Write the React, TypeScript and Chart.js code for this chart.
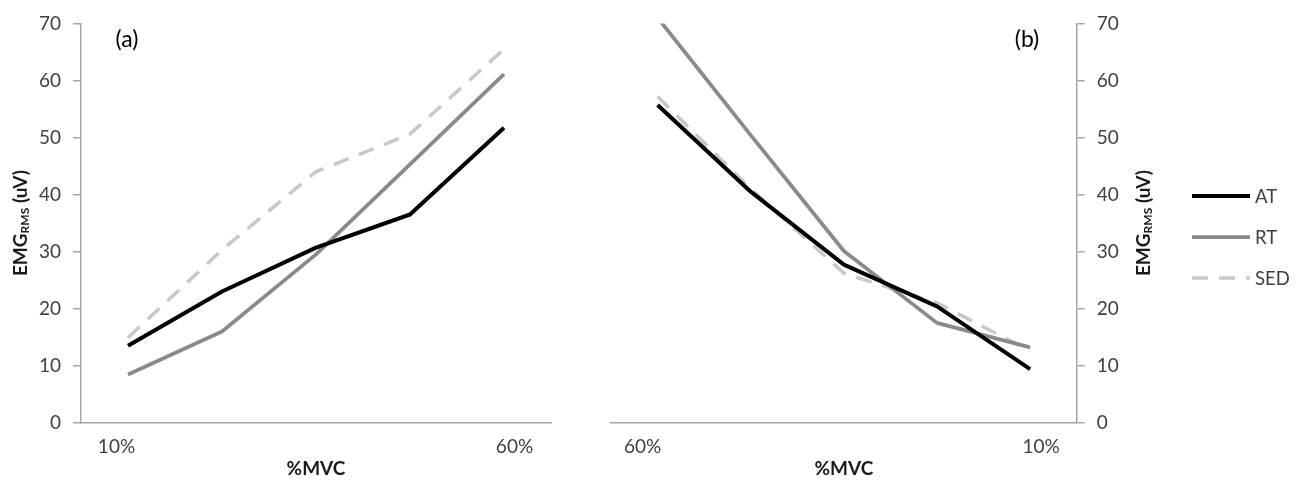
import React, { useEffect, useRef } from 'react';
import { Chart, registerables } from 'chart.js';

Chart.register(...registerables);

// ---------- data ----------
// only the end categories are labelled in the original
const categoriesA = ['10%', '', '', '', '60%'];
const categoriesB = ['60%', '', '', '', '10%'];
const seriesNames = ['AT', 'RT', 'SED'];
const atA = [13.5, 23.0, 30.7, 36.5, 51.7];
const rtA = [8.45, 16.0, 29.5, 45.3, 61.1];
const sedA = [14.9, 30.3, 44.0, 50.6, 65.5];
const atB = [55.7, 40.5, 27.7, 20.4, 9.4];
const rtB = [71.0, 50.4, 30.1, 17.5, 13.2];
const sedB = [57.2, 41.0, 26.2, 21.0, 12.6];
const yMin = 0;
const yMax = 70;
const yStep = 10;
const xTitle = '%MVC';
const yTitleMain = 'EMG';
const yTitleSub = 'RMS';
const yTitleRest = ' (uV)';
const panelLabels = ['(a)', '(b)'];

// ---------- styles ----------
const FONT = 'Lato';
const TICK_COLOR = '#404040';
const TITLE_COLOR = '#1a1a1a';
const AXIS_COLOR = '#a6a6a6';
const TICK_SIZE = 19;
const seriesStyles = [
  { color: '#000000', width: 4, dash: [] as number[] },
  { color: '#8a8a8a', width: 3.75, dash: [] as number[] },
  { color: '#c8c8c8', width: 3.5, dash: [16, 11] },
];

function makeDatasets(values: number[][]) {
  return values.map((v, i) => ({
    label: seriesNames[i],
    data: v,
    borderColor: seriesStyles[i].color,
    backgroundColor: seriesStyles[i].color,
    borderWidth: seriesStyles[i].width,
    borderDash: seriesStyles[i].dash,
    borderJoinStyle: 'round' as const,
    pointRadius: 0,
    pointHoverRadius: 0,
    tension: 0,
    fill: false,
  }));
}

const yTitlePlugin = {
  id: 'yTitle',
  afterDraw(chart: any, _args: any, opts: any) {
    const { ctx, chartArea } = chart;
    const cy = (chartArea.top + chartArea.bottom) / 2;
    ctx.save();
    ctx.translate(opts.baselineX, cy);
    ctx.rotate(-Math.PI / 2);
    ctx.fillStyle = TITLE_COLOR;
    ctx.textBaseline = 'alphabetic';
    ctx.textAlign = 'left';
    const big = `bold ${opts.size}px ${FONT}`;
    const small = `bold ${opts.subSize}px ${FONT}`;
    ctx.font = big;
    const w1 = ctx.measureText(yTitleMain).width;
    const w3 = ctx.measureText(yTitleRest).width;
    ctx.font = small;
    const w2 = ctx.measureText(yTitleSub).width;
    let x = -(w1 + w2 + w3) / 2;
    ctx.font = big;
    ctx.fillText(yTitleMain, x, 0);
    x += w1;
    ctx.font = small;
    ctx.fillText(yTitleSub, x, opts.subShift);
    x += w2;
    ctx.font = big;
    ctx.fillText(yTitleRest, x, 0);
    ctx.restore();
  },
};

// category tick labels, placed from the x scale, end labels nudged outward as in the original
const xLabelsPlugin = {
  id: 'xLabels',
  afterDraw(chart: any, _args: any, opts: any) {
    const { ctx } = chart;
    const scale = chart.scales.x;
    const texts: string[] = chart.data.labels;
    ctx.save();
    ctx.font = `${TICK_SIZE}px ${FONT}`;
    ctx.fillStyle = TICK_COLOR;
    ctx.textAlign = 'center';
    ctx.textBaseline = 'middle';
    texts.forEach((t, i) => {
      if (!t) return;
      let x = scale.getPixelForValue(i);
      if (i === 0) x += opts.firstShift;
      if (i === texts.length - 1) x += opts.lastShift;
      ctx.fillText(t, x, scale.top + opts.offsetY);
    });
    ctx.restore();
  },
};

const panelLabelPlugin = {
  id: 'panelLabel',
  afterDraw(chart: any, _args: any, opts: any) {
    const { ctx } = chart;
    ctx.save();
    ctx.font = `${opts.size}px ${FONT}`;
    ctx.fillStyle = '#000000';
    ctx.textAlign = 'center';
    ctx.textBaseline = 'middle';
    ctx.fillText(opts.text, opts.x, opts.y);
    ctx.restore();
  },
};

const lineLegendPlugin = {
  id: 'lineLegend',
  afterDraw(chart: any, _args: any, opts: any) {
    if (!opts || !opts.show) return;
    const { ctx } = chart;
    ctx.save();
    chart.data.datasets.forEach((ds: any, i: number) => {
      const y = opts.y + i * opts.gap;
      ctx.beginPath();
      ctx.setLineDash(ds.borderDash || []);
      ctx.strokeStyle = ds.borderColor;
      ctx.lineWidth = ds.borderWidth;
      ctx.lineCap = 'butt';
      ctx.moveTo(opts.x, y);
      ctx.lineTo(opts.x + opts.sampleWidth, y);
      ctx.stroke();
      ctx.setLineDash([]);
      ctx.font = `${opts.size}px ${FONT}`;
      ctx.fillStyle = TICK_COLOR;
      ctx.textAlign = 'left';
      ctx.textBaseline = 'middle';
      ctx.fillText(ds.label, opts.x + opts.sampleWidth + opts.textGap, y + 1);
    });
    ctx.restore();
  },
};

function makeConfig(
  labels: string[],
  values: number[][],
  side: 'left' | 'right',
  panelText: string,
  panelX: number,
): any {
  const isLeft = side === 'left';
  return {
    type: 'line',
    data: { labels, datasets: makeDatasets(values) },
    plugins: [yTitlePlugin, xLabelsPlugin, panelLabelPlugin, lineLegendPlugin],
    options: {
      responsive: false,
      animation: false,
      events: [],
      layout: {
        padding: isLeft
          ? { left: 0, right: 9, top: 19.3, bottom: 0 }
          : { left: 51, right: 134, top: 19.3, bottom: 0 },
      },
      plugins: {
        legend: { display: false },
        tooltip: { enabled: false },
        yTitle: { baselineX: isLeft ? 27 : 590, size: 19, subSize: 12, subShift: 2 },
        xLabels: {
          firstShift: isLeft ? -11.5 : -15,
          lastShift: isLeft ? 10.5 : 11,
          offsetY: 24,
        },
        panelLabel: { text: panelText, x: panelX, y: 39.5, size: 23 },
        lineLegend: {
          show: !isLeft,
          x: 632,
          y: 196,
          gap: 41,
          sampleWidth: 58,
          textGap: 5,
          size: 18.5,
        },
      },
      scales: {
        x: {
          type: 'category',
          offset: true,
          ticks: { display: false },
          grid: { display: false, drawTicks: false },
          border: { display: true, color: AXIS_COLOR, width: 1.5 },
          title: {
            display: true,
            text: xTitle,
            color: TITLE_COLOR,
            font: { family: FONT, size: 19, weight: 'bold' },
            padding: { top: 0, bottom: 1 },
          },
          afterFit: (s: any) => {
            s.height = 58.3;
          },
        },
        y: {
          position: side,
          min: yMin,
          max: yMax,
          ticks: {
            stepSize: yStep,
            padding: 12,
            color: TICK_COLOR,
            font: { family: FONT, size: TICK_SIZE },
          },
          grid: {
            drawOnChartArea: false,
            drawTicks: true,
            tickLength: 8,
            color: AXIS_COLOR,
            lineWidth: 1.5,
          },
          border: { display: true, color: AXIS_COLOR, width: 1.5 },
          afterFit: (s: any) => {
            s.width = isLeft ? 81 : 93.3;
          },
        },
      },
    },
  };
}

export default function App() {
  const leftRef = useRef<HTMLCanvasElement | null>(null);
  const rightRef = useRef<HTMLCanvasElement | null>(null);

  useEffect(() => {
    if (!leftRef.current || !rightRef.current) return;
    const c1 = new Chart(
      leftRef.current,
      makeConfig(categoriesA, [atA, rtA, sedA], 'left', panelLabels[0], 127),
    );
    const c2 = new Chart(
      rightRef.current,
      makeConfig(categoriesB, [atB, rtB, sedB], 'right', panelLabels[1], 467),
    );
    return () => {
      c1.destroy();
      c2.destroy();
    };
  }, []);

  return (
    <div
      style={{
        position: 'absolute',
        left: 0,
        top: 0,
        width: 1304,
        height: 481,
        background: '#ffffff',
        overflow: 'hidden',
      }}
    >
      <canvas
        ref={leftRef}
        width={560}
        height={481}
        style={{ position: 'absolute', left: 0, top: 0, width: 560, height: 481 }}
      />
      <canvas
        ref={rightRef}
        width={744}
        height={481}
        style={{ position: 'absolute', left: 560, top: 0, width: 744, height: 481 }}
      />
    </div>
  );
}
